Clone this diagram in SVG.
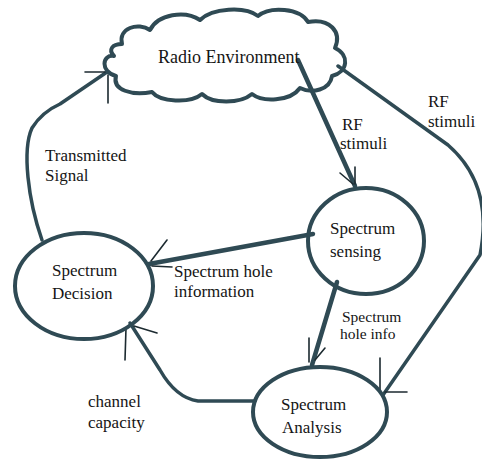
<svg xmlns="http://www.w3.org/2000/svg" width="482" height="459" viewBox="0 0 482 459">
<style>
.shape{fill:none;stroke:#2f4a54;stroke-width:4;stroke-linejoin:round}
.edge{fill:none;stroke:#2f4a54;stroke-width:3.5;stroke-linecap:round;stroke-linejoin:round}
.thick{stroke-width:4.5}
.barb{fill:none;stroke:#1c2a30;stroke-width:1.6;stroke-linecap:round}
text{font-family:"Liberation Serif","Times New Roman",serif;font-size:17px;fill:#151515}
.sm{font-size:15.5px}
.lg{font-size:18px}
</style>
<rect width="482" height="459" fill="#ffffff"/>
<g id="connectors">
  <path class="edge thick" d="M 298,60 L 355,186"/>
  <path class="barb" d="M 340,173 L 353,184 M 355,167 L 355,184"/>
  <path class="edge" d="M 338,66 L 448,145 Q 494,185 480,255 L 383,395"/>
  <path class="barb" d="M 380,358 L 380,392 M 385,392 L 407,392"/>
  <path class="edge thick" d="M 313,234 L 149,264"/>
  <path class="barb" d="M 167,240 L 151,261 M 152,266 L 172,267"/>
  <path class="edge thick" d="M 337,282 L 312,365"/>
  <path class="barb" d="M 309,338 L 309,362 M 325,348 L 315,360"/>
  <path class="edge" d="M 255,401 L 198,401 Q 176,398 160,370 L 130,323"/>
  <path class="barb" d="M 125,360 L 126,328 M 157,333 L 134,326"/>
  <path class="edge" d="M 42,240 C 28,200 22,150 32,128 Q 42,112 60,104 L 107,72"/>
  <path class="barb" d="M 85,72 L 105,72 M 108,75 L 108,103"/>
  <text x="342" y="130">RF</text>
  <text x="340" y="149">stimuli</text>
  <text x="428" y="107">RF</text>
  <text x="428" y="127">stimuli</text>
  <text x="174" y="277">Spectrum hole</text>
  <text x="174" y="297">information</text>
  <text class="sm" x="342" y="322">Spectrum</text>
  <text class="sm" x="340" y="339">hole info</text>
  <text x="88" y="407">channel</text>
  <text x="88" y="428">capacity</text>
  <text x="45" y="161">Transmitted</text>
  <text x="45" y="181">Signal</text>
</g>
<g id="radio-environment">
  <path class="shape" d="M 122,44 C 118,28 138,22 150,30 C 158,14 185,10 200,20 C 212,8 245,6 258,16 C 270,6 300,8 308,22 C 330,18 342,32 335,48 C 350,55 348,72 332,76 C 330,90 312,94 300,88 C 290,102 262,102 252,94 C 240,104 212,104 202,94 C 190,104 160,102 152,92 C 132,96 112,90 116,76 C 100,72 102,54 114,56 C 108,50 112,44 122,44 Z"/>
  <text class="lg" x="158" y="63">Radio Environment</text>
</g>
<g id="spectrum-sensing">
  <ellipse class="shape" cx="366" cy="241" rx="58" ry="53"/>
  <text x="330" y="234">Spectrum</text>
  <text x="330" y="257">sensing</text>
</g>
<g id="spectrum-decision">
  <ellipse class="shape" cx="84" cy="286" rx="69" ry="53"/>
  <text x="52" y="276">Spectrum</text>
  <text x="52" y="299">Decision</text>
</g>
<g id="spectrum-analysis">
  <ellipse class="shape" cx="320" cy="412" rx="67" ry="45"/>
  <text x="281" y="410">Spectrum</text>
  <text x="282" y="433">Analysis</text>
</g>
</svg>
